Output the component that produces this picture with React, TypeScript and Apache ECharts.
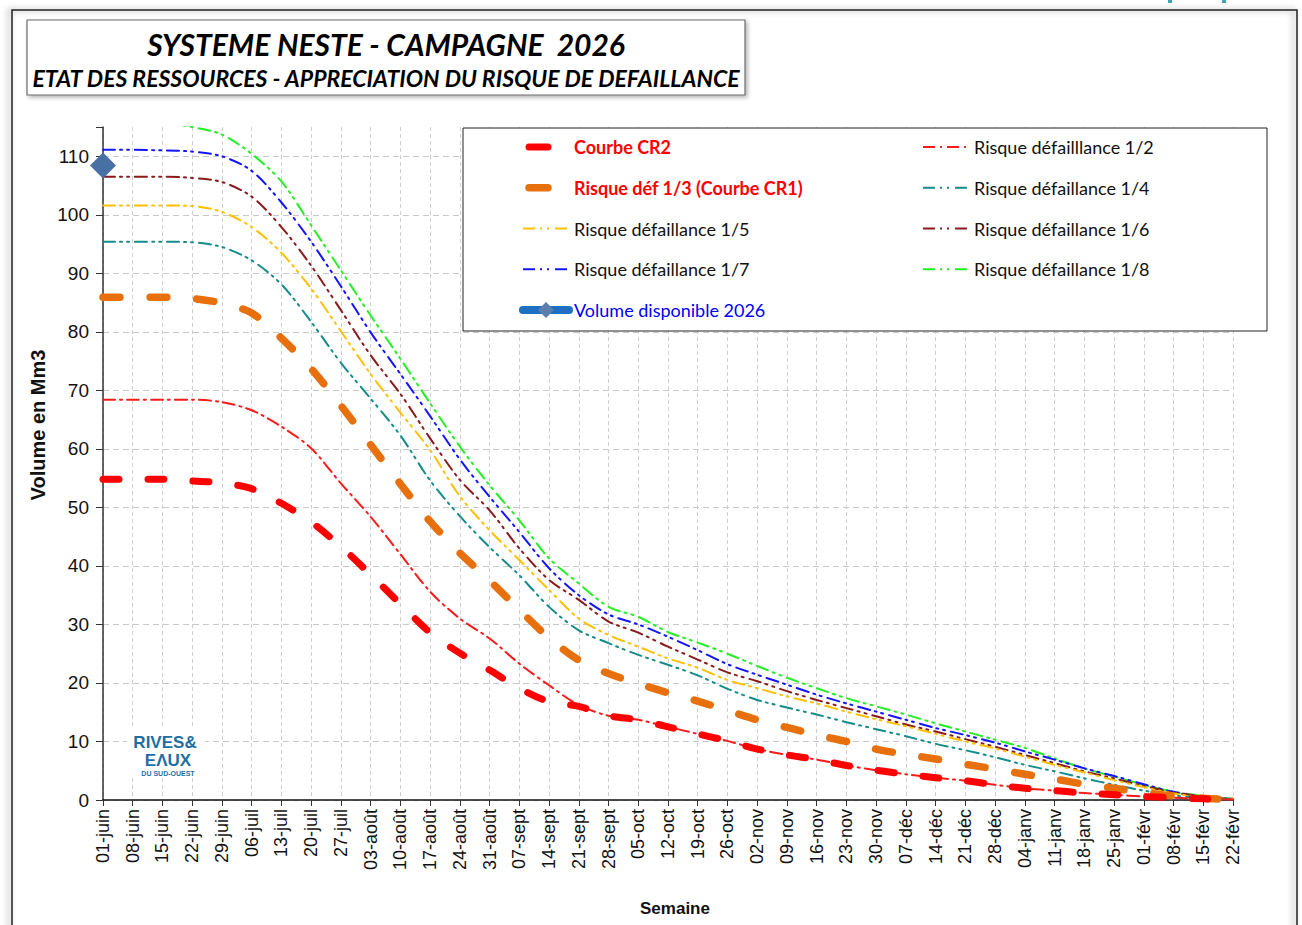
import React, { useEffect, useRef } from "react";
import * as echarts from "echarts";

const weeks = [
  "01-juin", "08-juin", "15-juin", "22-juin", "29-juin",
  "06-juil", "13-juil", "20-juil", "27-juil",
  "03-août", "10-août", "17-août", "24-août", "31-août",
  "07-sept", "14-sept", "21-sept", "28-sept",
  "05-oct", "12-oct", "19-oct", "26-oct",
  "02-nov", "09-nov", "16-nov", "23-nov", "30-nov",
  "07-déc", "14-déc", "21-déc", "28-déc",
  "04-janv", "11-janv", "18-janv", "25-janv",
  "01-févr", "08-févr", "15-févr", "22-févr",
];

const yTicks = [0, 10, 20, 30, 40, 50, 60, 70, 80, 90, 100, 110];

const courbeCR2 = [
  54.8, 54.8, 54.8, 54.5, 54.2, 53.2, 50.7, 47.5, 43.3, 38.5, 33.5, 28.6, 25.1, 22.2, 19.1, 16.8, 16.0, 14.4, 13.7, 12.5,
  11.3, 10.1, 8.7, 7.7, 6.9, 5.9, 5.1, 4.4, 3.8, 3.3, 2.6, 2.0, 1.6, 1.2, 0.9, 0.6, 0.4, 0.2, 0.1,
];
const risque12 = [
  68.4, 68.4, 68.4, 68.4, 68.0, 66.6, 63.8, 60.1, 54.1, 48.4, 42.0, 35.6, 31.0, 27.6, 23.3, 19.6, 16.2, 14.4, 13.7, 12.5,
  11.3, 10.1, 8.7, 7.7, 6.9, 5.9, 5.1, 4.4, 3.8, 3.3, 2.6, 2.0, 1.6, 1.2, 0.9, 0.6, 0.4, 0.2, 0.1,
];
const courbeCR1 = [
  85.9, 85.9, 85.9, 85.7, 84.9, 83.2, 78.9, 73.7, 67.4, 60.7, 54.0, 47.6, 42.2, 37.5, 32.5, 27.7, 23.9, 21.6, 19.9, 18.3,
  16.9, 15.3, 13.7, 12.4, 11.1, 10.0, 8.7, 7.8, 7.0, 6.1, 5.3, 4.4, 3.6, 2.7, 2.0, 1.3, 0.7, 0.3, 0.1,
];
const risque14 = [
  95.4, 95.4, 95.4, 95.3, 94.5, 92.2, 88.1, 81.7, 74.7, 68.6, 62.3, 54.6, 48.5, 43.2, 38.4, 33.0, 29.0, 26.8, 24.8, 23.1,
  21.3, 19.0, 17.1, 15.8, 14.6, 13.3, 12.1, 10.9, 9.6, 8.5, 7.3, 6.0, 4.9, 3.7, 2.6, 1.6, 0.8, 0.3, 0.2,
];
const risque15 = [
  101.6, 101.6, 101.6, 101.5, 100.5, 97.9, 93.5, 87.4, 80.1, 72.8, 66.2, 59.8, 51.9, 46.1, 41.0, 35.9, 31.0, 28.2, 26.2, 24.2,
  22.6, 20.5, 19.1, 17.7, 16.5, 15.1, 13.8, 12.6, 11.3, 10.0, 8.8, 7.4, 6.0, 4.7, 3.4, 2.2, 1.1, 0.5, 0.2,
];
const risque16 = [
  106.5, 106.5, 106.5, 106.3, 105.6, 103.1, 97.9, 91.3, 83.7, 76.0, 69.4, 61.8, 54.7, 49.5, 43.0, 37.6, 34.2, 30.5, 28.6, 26.2,
  24.0, 21.8, 20.3, 18.6, 17.1, 15.7, 14.3, 12.9, 11.7, 10.4, 9.1, 7.7, 6.3, 4.9, 3.7, 2.4, 1.3, 0.6, 0.2,
];
const risque17 = [
  111.1, 111.1, 111.0, 110.8, 110.0, 107.5, 102.1, 95.4, 87.8, 79.9, 72.8, 65.6, 58.2, 51.8, 45.8, 39.6, 35.0, 31.7, 30.0, 27.9,
  25.6, 23.2, 21.4, 19.7, 18.0, 16.5, 15.1, 13.7, 12.3, 11.1, 9.8, 8.3, 6.9, 5.4, 4.1, 2.7, 1.4, 0.6, 0.2,
];
const risque18 = [
  116.2, 116.2, 115.7, 115.0, 113.7, 110.4, 105.7, 98.2, 90.5, 82.8, 75.4, 67.8, 60.4, 53.8, 47.8, 41.3, 37.0, 33.0, 31.3, 28.7,
  26.9, 25.0, 22.9, 20.9, 19.1, 17.4, 16.0, 14.6, 13.1, 11.7, 10.3, 8.9, 7.1, 5.4, 4.0, 2.6, 1.4, 0.7, 0.2,
];
const volume2026 = [108.4];

const N_CR2 = "Courbe CR2";
const N_CR1 = "Risque déf 1/3 (Courbe CR1)";
const N_12 = "Risque défailllance 1/2";
const N_14 = "Risque défaillance 1/4";
const N_15 = "Risque défaillance 1/5";
const N_16 = "Risque défaillance 1/6";
const N_17 = "Risque défaillance 1/7";
const N_18 = "Risque défaillance 1/8";
const N_VOL = "Volume disponible 2026";

const DASH_DOT = [12, 5, 2, 5];
const DASH_DOT_DOT = [12, 5, 2, 5, 2, 6];

function lineSeries(name: string, data: number[], color: string, width: number, type: any, z: number) {
  return {
    name,
    type: "line",
    data,
    smooth: 0.3,
    symbol: "none",
    clip: true,
    z,
    itemStyle: { color },
    lineStyle: { color, width, type, cap: "round", join: "round" },
  };
}

export default function App() {
  const ref = useRef<HTMLDivElement>(null);

  useEffect(() => {
    const chart = echarts.init(ref.current!, null, { renderer: "svg" });
    const volData = weeks.map((_, i) => (i < volume2026.length ? volume2026[i] : null));

    const legendText = { fontFamily: "Lato", fontSize: 18, color: "#111", lineHeight: 20 };
    const hideSym = { opacity: 0 };
    const thin = (type: any) => ({ itemStyle: hideSym, lineStyle: { width: 2, type, cap: "butt" } });
    const legendCommon = {
      orient: "vertical",
      itemWidth: 46,
      itemHeight: 20,
      itemGap: 20.75,
      top: 132,
      selectedMode: false,
      textStyle: legendText,
      z: 10,
    };

    const option: any = {
      animation: false,
      backgroundColor: "#ffffff",
      grid: { left: 103, right: 69, top: 127, bottom: 125, containLabel: false },
      xAxis: {
        type: "category",
        data: weeks,
        boundaryGap: false,
        axisLine: { lineStyle: { color: "#111", width: 1.5 } },
        axisTick: { show: true, interval: 0, length: 6, lineStyle: { color: "#333" } },
        axisLabel: {
          interval: 0,
          rotate: 90,
          margin: 9,
          fontFamily: "Liberation Sans, Arial",
          fontSize: 18,
          color: "#111",
        },
        splitLine: { show: true, interval: 0, lineStyle: { color: "#cfcfcf", type: [4, 3], width: 1 } },
      },
      yAxis: {
        type: "value",
        min: 0,
        max: 115,
        interval: 10,
        axisLine: { show: true, lineStyle: { color: "#333", width: 1.5 } },
        axisTick: { show: true, length: 7, lineStyle: { color: "#333" } },
        axisLabel: {
          margin: 14,
          fontFamily: "Liberation Sans, Arial",
          fontSize: 19,
          color: "#111",
          formatter: (v: number) => (yTicks.indexOf(v) >= 0 ? String(v) : ""),
        },
        splitLine: { show: true, showMaxLine: false, lineStyle: { color: "#c8c8c8", type: [6, 4], width: 1.2 } },
      },
      legend: [
        {
          ...legendCommon,
          left: 514,
          data: [
            {
              name: N_CR2,
              textStyle: { color: "#ff0000", fontWeight: "bold" },
              itemStyle: hideSym,
              lineStyle: { width: 7, type: [19, 200], cap: "round", dashOffset: -6 },
            },
            {
              name: N_CR1,
              textStyle: { color: "#ff0000", fontWeight: "bold" },
              itemStyle: hideSym,
              lineStyle: { width: 7.5, type: [19, 200], cap: "round", dashOffset: -6 },
            },
            { name: N_15, ...thin(DASH_DOT_DOT) },
            { name: N_17, ...thin(DASH_DOT_DOT) },
            {
              name: N_VOL,
              textStyle: { color: "#0000ff" },
              itemStyle: { color: "#5a7fae", opacity: 1 },
              lineStyle: { width: 8, type: "solid", cap: "round", color: "#1f6fc2" },
            },
          ],
        },
        {
          ...legendCommon,
          left: 917,
          data: [
            { name: N_12, ...thin(DASH_DOT) },
            { name: N_14, ...thin(DASH_DOT_DOT) },
            { name: N_16, ...thin(DASH_DOT_DOT) },
            { name: N_18, ...thin(DASH_DOT_DOT) },
          ],
        },
      ],
      series: [
        lineSeries(N_18, risque18, "#22f022", 2, DASH_DOT_DOT, 3),
        lineSeries(N_17, risque17, "#1414ff", 2, DASH_DOT_DOT, 3),
        lineSeries(N_16, risque16, "#8b1a1a", 2, DASH_DOT_DOT, 3),
        lineSeries(N_15, risque15, "#ffc000", 2, DASH_DOT_DOT, 3),
        lineSeries(N_14, risque14, "#148c8c", 2, DASH_DOT_DOT, 3),
        lineSeries(N_12, risque12, "#ff1a1a", 2, DASH_DOT, 3),
        lineSeries(N_CR1, courbeCR1, "#e8700c", 7.5, [17, 30], 4),
        lineSeries(N_CR2, courbeCR2, "#ff0000", 7, [16, 29], 5),
        {
          name: N_VOL,
          type: "line",
          data: volData,
          symbol: "diamond",
          symbolSize: 26,
          showSymbol: true,
          showAllSymbol: true,
          z: 6,
          itemStyle: { color: "#4870a4" },
          lineStyle: { color: "#1f6fc2", width: 8 },
        },
      ],
      graphic: [
        {
          type: "rect",
          silent: true,
          z: -10,
          shape: { x: 12, y: 10, width: 1285, height: 940 },
          style: { fill: "none", stroke: "#222", lineWidth: 1.5, shadowBlur: 6, shadowColor: "rgba(0,0,0,0.45)", shadowOffsetX: -3 },
        },
        {
          type: "rect",
          silent: true,
          z: 1,
          shape: { x: 27, y: 20, width: 718, height: 75 },
          style: { fill: "#fff", stroke: "#6a6a6a", lineWidth: 1.2, shadowBlur: 4, shadowColor: "rgba(0,0,0,0.3)", shadowOffsetX: 2, shadowOffsetY: 2 },
        },
        {
          type: "text",
          silent: true,
          z: 2,
          x: 386,
          y: 44,
          style: {
            text: "SYSTEME NESTE - CAMPAGNE  2026",
            fontFamily: "Lato",
            fontSize: 30,
            fontWeight: "bold",
            fontStyle: "italic",
            fill: "#000",
            align: "center",
            verticalAlign: "middle",
          },
        },
        {
          type: "text",
          silent: true,
          z: 2,
          x: 386,
          y: 78,
          style: {
            text: "ETAT DES RESSOURCES - APPRECIATION DU RISQUE DE DEFAILLANCE",
            fontFamily: "Lato",
            fontSize: 23,
            fontWeight: "bold",
            fontStyle: "italic",
            fill: "#000",
            align: "center",
            verticalAlign: "middle",
          },
        },
        {
          type: "rect",
          silent: true,
          z: 8,
          shape: { x: 463, y: 128, width: 804, height: 203 },
          style: { fill: "#fff", stroke: "#222", lineWidth: 1 },
        },
        {
          type: "rect",
          silent: true,
          z: 8,
          shape: { x: 127, y: 728, width: 78, height: 50 },
          style: { fill: "#fff" },
        },
        {
          type: "text",
          silent: true,
          z: 9,
          x: 165,
          y: 742,
          style: { text: "RIVES&", fontFamily: "Liberation Sans", fontSize: 17, fontWeight: "bold", fill: "#1d6fa3", align: "center", verticalAlign: "middle" },
        },
        {
          type: "text",
          silent: true,
          z: 9,
          x: 168,
          y: 760,
          style: { text: "EΛUX", fontFamily: "Liberation Sans", fontSize: 17, fontWeight: "bold", fill: "#1d6fa3", align: "center", verticalAlign: "middle" },
        },
        {
          type: "text",
          silent: true,
          z: 9,
          x: 168,
          y: 773,
          style: { text: "DU SUD-OUEST", fontFamily: "Liberation Sans", fontSize: 7, fontWeight: "bold", fill: "#1d6fa3", align: "center", verticalAlign: "middle" },
        },
        {
          type: "text",
          silent: true,
          x: 38,
          y: 425,
          rotation: Math.PI / 2,
          style: { text: "Volume en Mm3", fontFamily: "Liberation Sans, Arial", fontSize: 20, fontWeight: "bold", fill: "#111", align: "center", verticalAlign: "middle" },
        },
        {
          type: "text",
          silent: true,
          x: 675,
          y: 908,
          style: { text: "Semaine", fontFamily: "Liberation Sans, Arial", fontSize: 17, fontWeight: "bold", fill: "#111", align: "center", verticalAlign: "middle" },
        },
        { type: "rect", silent: true, shape: { x: 1168, y: 0, width: 4, height: 3 }, style: { fill: "#3aa6b5" } },
        { type: "rect", silent: true, shape: { x: 1222, y: 0, width: 4, height: 3 }, style: { fill: "#3aa6b5" } },
      ],
    };

    chart.setOption(option);
    return () => chart.dispose();
  }, []);

  return (
    <div
      ref={ref}
      style={{ position: "fixed", left: 0, top: 0, width: 1302, height: 925, background: "#fff" }}
    />
  );
}
